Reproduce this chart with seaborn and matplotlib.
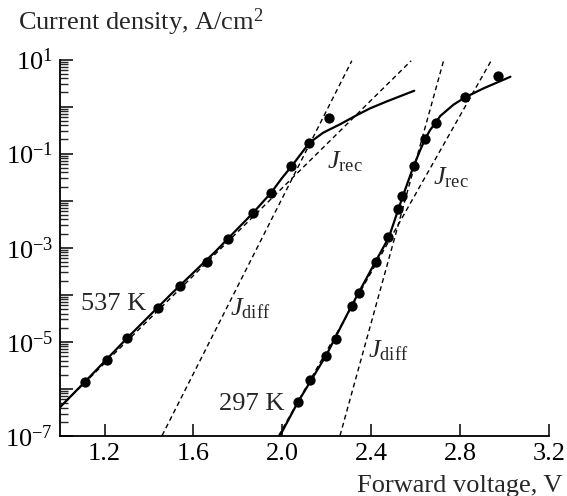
import numpy as np
import pandas as pd
import matplotlib
matplotlib.use("Agg")
import matplotlib.pyplot as plt
import seaborn as sns

# ---- data ----
# measured points, 537 K
v537 = [1.11, 1.21, 1.30, 1.44, 1.54, 1.66, 1.755, 1.87, 1.95, 2.04, 2.122, 2.212]
j537 = [1.39e-6, 4.2e-6, 1.18e-5, 5.3e-5, 1.57e-4, 5.1e-4, 1.52e-3, 5.6e-3, 1.48e-2, 5.4e-2, 0.17, 0.56]
# measured points, 297 K
v297 = [2.07, 2.125, 2.195, 2.24, 2.315, 2.347, 2.42, 2.478, 2.523, 2.541, 2.591, 2.644, 2.693, 2.824, 2.970]
j297 = [5.2e-7, 1.52e-6, 5.1e-6, 1.15e-5, 5.9e-5, 1.07e-4, 5.1e-4, 1.67e-3, 6.5e-3, 1.26e-2, 5.4e-2, 0.20, 0.44, 1.62, 4.4]
# calculated total curves (solid)
fit537_v = [1.0, 1.11, 1.3, 1.5, 1.7, 1.87, 1.95, 1.997, 2.042, 2.122, 2.185, 2.26, 2.336, 2.396, 2.471, 2.594]
fit537_j = [4.1e-7, 1.39e-6, 1.18e-5, 1.04e-4, 8.4e-4, 5.6e-3, 1.48e-2, 2.96e-2, 5.4e-2, 0.17, 0.28, 0.42, 0.66, 0.92, 1.29, 2.17]
fit297_v = [1.99, 2.07, 2.2, 2.31, 2.42, 2.48, 2.54, 2.591, 2.621, 2.644, 2.666, 2.693, 2.711, 2.771, 2.824, 2.907, 3.027]
fit297_j = [1.02e-7, 5.2e-7, 5.4e-6, 5.6e-5, 5.1e-4, 1.67e-3, 1.15e-2, 5.4e-2, 0.119, 0.21, 0.32, 0.47, 0.63, 1.10, 1.58, 2.45, 4.3]
# asymptotes (dashed): J_rec and J_diff
rec537_v = [1.0, 2.58]
rec537_j = [4.1e-7, 9.4]
diff537_v = [1.459, 2.313]
diff537_j = [1.02e-7, 9.4]
rec297_v = [1.984, 2.94]
rec297_j = [1.02e-7, 9.4]
diff297_v = [2.26, 2.726]
diff297_j = [1.02e-7, 9.4]

xticks = [1.2, 1.6, 2.0, 2.4, 2.8, 3.2]
xticklabels = ["1.2", "1.6", "2.0", "2.4", "2.8", "3.2"]

# ---- style ----
sns.set_theme(style="ticks")
plt.rcParams["font.family"] = ["Liberation Serif", "DejaVu Serif"]
plt.rcParams["mathtext.fontset"] = "custom"
plt.rcParams["mathtext.rm"] = "Liberation Serif"
plt.rcParams["mathtext.it"] = "Liberation Serif:italic"
plt.rcParams["mathtext.bf"] = "Liberation Serif:bold"

FS = 19
fig = plt.figure(figsize=(5.67, 4.96), dpi=100)
ax = fig.add_axes([0.106, 0.121, 0.862, 0.759])

# dashed asymptotes
for vv, jj in [(rec537_v, rec537_j), (diff537_v, diff537_j),
               (rec297_v, rec297_j), (diff297_v, diff297_j)]:
    d = pd.DataFrame({"v": vv, "j": jj})
    sns.lineplot(data=d, x="v", y="j", ax=ax, color="black", lw=1.0,
                 linestyle=(0, (3.5, 2.5)), sort=False, clip_on=False)

# solid curves
for vv, jj in [(fit537_v, fit537_j), (fit297_v, fit297_j)]:
    d = pd.DataFrame({"v": vv, "j": jj})
    sns.lineplot(data=d, x="v", y="j", ax=ax, color="black", lw=1.6, sort=False)

# measured points
pts = pd.DataFrame({"v": v537 + v297, "j": j537 + j297})
sns.scatterplot(data=pts, x="v", y="j", ax=ax, color="black", s=55,
                edgecolor="black", linewidth=0, zorder=5, clip_on=False)

ax.set_yscale("log")
ax.set_xlim(1.0, 3.2)
ax.set_ylim(1e-7, 1e1)

ax.set_xticks(xticks)
ax.set_xticklabels(xticklabels)
ax.xaxis.set_minor_locator(matplotlib.ticker.NullLocator())
yt = [10.0 ** k for k in range(-7, 2)]
ax.set_yticks(yt)
ax.set_yticklabels([(r"$10^{%d}$" % k) if k % 2 != 0 else "" for k in range(-7, 2)])
ax.yaxis.set_minor_locator(matplotlib.ticker.LogLocator(base=10, subs=np.arange(2, 10), numticks=20))
ax.yaxis.set_minor_formatter(matplotlib.ticker.NullFormatter())

ax.tick_params(axis="both", which="major", direction="in", length=9, width=1.1,
               labelsize=FS, colors="black", pad=5)
ax.tick_params(axis="y", which="minor", direction="in", length=6, width=1.0)
sns.despine(ax=ax)
for s in ["left", "bottom"]:
    ax.spines[s].set_linewidth(1.3)
    ax.spines[s].set_color("black")
ax.set_xlabel("")
ax.set_ylabel("")

# annotations
ax.text(1.388, 10 ** -4.19, "537 K", ha="right", va="center", fontsize=FS)
ax.text(2.012, 10 ** -6.33, "297 K", ha="right", va="center", fontsize=FS)
ax.text(2.203, 10 ** -1.18, r"$J_{\rm rec}$", ha="left", va="center", fontsize=FS)
ax.text(1.765, 10 ** -4.29, r"$J_{\rm diff}$", ha="left", va="center", fontsize=FS)
ax.text(2.68, 10 ** -1.52, r"$J_{\rm rec}$", ha="left", va="center", fontsize=FS)
ax.text(2.387, 10 ** -5.18, r"$J_{\rm diff}$", ha="left", va="center", fontsize=FS)

fig.text(18 / 567, 1 - 22 / 496, r"Current density, A/cm$^{2}$", ha="left", va="center", fontsize=FS)
fig.text(562 / 567, 1 - 486 / 496, "Forward voltage, V", ha="right", va="center", fontsize=FS)

fig.savefig("out.png", dpi=100)
